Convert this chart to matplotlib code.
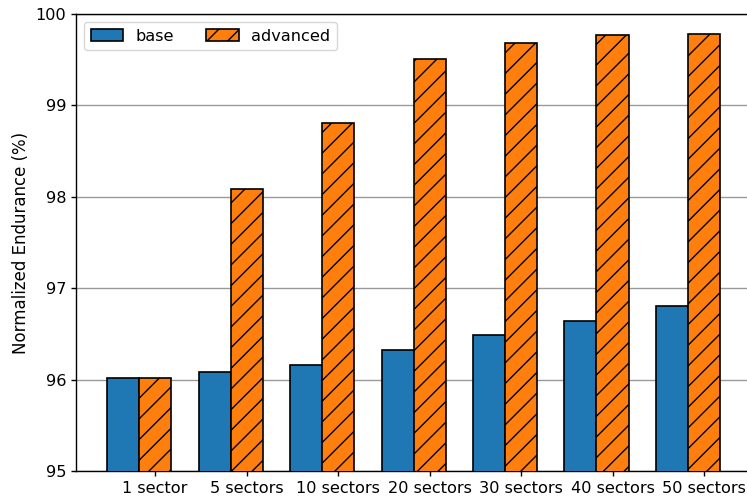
import matplotlib
matplotlib.use("Agg")
import matplotlib.pyplot as plt
import numpy as np

categories = ["1 sector", "5 sectors", "10 sectors", "20 sectors", "30 sectors", "40 sectors", "50 sectors"]
base = [96.02, 96.08, 96.16, 96.32, 96.49, 96.64, 96.81]
advanced = [96.02, 98.08, 98.81, 99.51, 99.68, 99.77, 99.78]

DPI = 124
S = 100.0 / DPI  # size scale so that sizes look as at 100 dpi

plt.rcParams["hatch.linewidth"] = 1.0 * S
plt.rcParams["axes.linewidth"] = 1.0 * S
plt.rcParams["xtick.major.width"] = 1.0 * S
plt.rcParams["ytick.major.width"] = 1.0 * S
plt.rcParams["xtick.major.size"] = 3.5 * S
plt.rcParams["ytick.major.size"] = 3.5 * S
plt.rcParams["xtick.major.pad"] = 3.5 * S
plt.rcParams["ytick.major.pad"] = 3.5 * S

fig = plt.figure(figsize=(747 / DPI, 502 / DPI), dpi=DPI)
ax = fig.add_axes([76/747, 1 - 471/502, (752-76)/747, (471-14)/502])

x = np.arange(len(categories))
w = 0.35
ax.bar(x - w/2, base, w, color="#1f77b4", edgecolor="black", linewidth=1.2 * S, label="base", zorder=3)
ax.bar(x + w/2, advanced, w, color="#ff7f0e", edgecolor="black", linewidth=1.2 * S, hatch="//", label="advanced", zorder=3)

ax.set_ylim(95, 100)
ax.set_xlim(-0.69, 6.7)
ax.set_yticks([95, 96, 97, 98, 99, 100])
ax.set_xticks(x + w/2)
ax.set_xticklabels(categories, fontsize=11.6 * S)
ax.tick_params(axis="y", labelsize=11.6 * S)
ax.yaxis.grid(True, color="#999999", linewidth=1.0 * S, zorder=0)
ax.set_axisbelow(True)
ax.set_ylabel("Normalized Endurance (%)", fontsize=12 * S, labelpad=4 * S)
leg = ax.legend(loc="upper left", ncol=2, prop={"size": 11.6 * S}, handlelength=2.0, columnspacing=2.0,
                borderaxespad=0.5)
leg.get_frame().set_linewidth(1.0 * S)

fig.savefig("out.png", dpi=DPI)
